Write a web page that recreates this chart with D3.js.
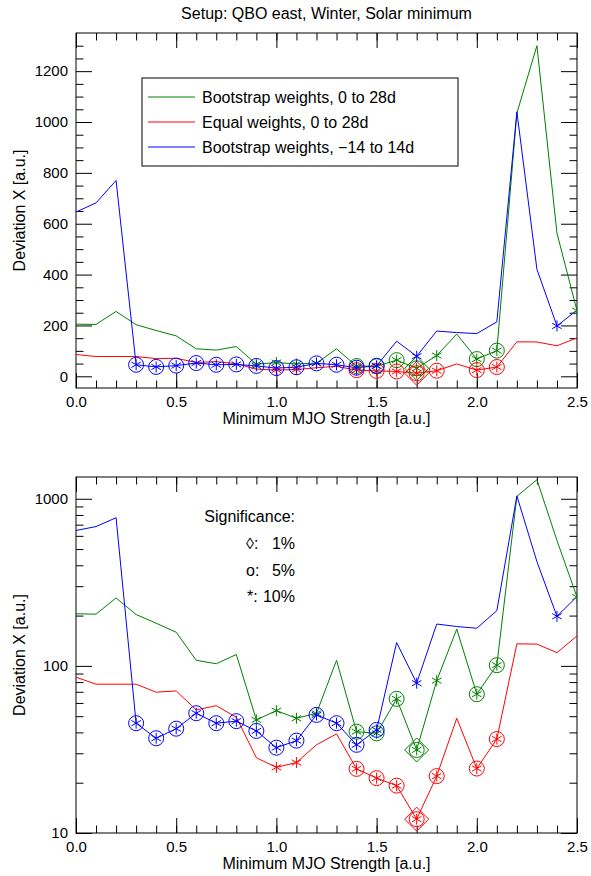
<!DOCTYPE html>
<html><head><meta charset="utf-8">
<script src="https://cdn.jsdelivr.net/npm/d3@7"></script>
<style>
body{margin:0;background:#fff;}
svg{display:block;font-family:"Liberation Sans",Arial,Helvetica,sans-serif;}
</style></head>
<body><svg id="c" width="591" height="876"></svg>
<script>
// ---------- data ----------
const strength = [0.0,0.1,0.2,0.3,0.4,0.5,0.6,0.7,0.8,0.9,1.0,1.1,1.2,1.3,1.4,1.5,1.6,1.7,1.8,1.9,2.0,2.1,2.2,2.3,2.4,2.5];
const greenVals = [205,204,255,203,180,159,108,103,117,47.5,54,48.6,52,108,40.4,39.5,63.5,31.4,81.6,166,67.7,101,1035,1300,563,258];
const redVals   = [85.6,77.7,77.7,77.7,69.6,70.8,54.5,57.8,49.3,28.2,24.7,26.4,33.7,39.2,24.2,21.3,19.2,12.1,21.9,48.6,24.3,36.5,135.5,135,120,151];
const blueVals  = [646,682,770,45.4,36.9,42.1,52.1,45.4,46.7,40.8,32.4,35.7,50.9,45.4,33.7,41.4,138,78.8,178,172,168,214,1040,421,198,260];
// significance codes: "" none, "s" 10% (*), "cs" 5% (o), "dcs" 1% (diamond)
const greenSig = ["","","","","","","","","","s","s","s","s","","cs","cs","cs","dcs","s","","cs","cs","","","","s"];
const redSig   = ["","","","","","","","","","","s","s","","","cs","cs","cs","dcs","cs","","cs","cs","","","",""];
const blueSig  = ["","","","cs","cs","cs","cs","cs","cs","cs","cs","cs","cs","cs","cs","cs","","s","","","","","","","s",""];
const seriesNames = ["Bootstrap weights, 0 to 28d","Equal weights, 0 to 28d","Bootstrap weights, \u221214 to 14d"];
const seriesColors = ["#008000","#ff0000","#0000ff"];
const linTicks = [0,200,400,600,800,1000,1200];
const logTicks = [10,100,1000];
const xTicks = [0.0,0.5,1.0,1.5,2.0,2.5];
const sigLabels = [["\u25CA:","1%"],["o:","5%"],["*:","10%"]];
const titleText = "Setup: QBO east, Winter, Solar minimum";
const xTitle = "Minimum MJO Strength [a.u.]";
const yTitle = "Deviation X [a.u.]";

const series = [
  {vals: greenVals, sig: greenSig, color: seriesColors[0]},
  {vals: redVals, sig: redSig, color: seriesColors[1]},
  {vals: blueVals, sig: blueSig, color: seriesColors[2]}
];

const svg = d3.select("#c");
const L = 76, R = 577;
const x = d3.scaleLinear().domain([0,2.5]).range([L,R]);
const xMinor = d3.range(0,26).map(i => i/10);
const FS = 15;   // numbers
const TS = 16;   // text

svg.append("text").attr("x",(L+R)/2).attr("y",19).attr("text-anchor","middle")
  .attr("font-size",TS).text(titleText);

function panel(id, y, top, bottom, majors, minors, fmt) {
  const g = svg.append("g");
  const clipId = "clip"+id;
  svg.append("clipPath").attr("id",clipId).append("rect")
    .attr("x",L).attr("y",top).attr("width",R-L).attr("height",bottom-top);

  g.append("g").attr("transform",`translate(0,${bottom})`)
    .call(d3.axisBottom(x).tickValues(xTicks).tickSizeInner(-15).tickSizeOuter(0).tickPadding(8).tickFormat(d3.format(".1f")));
  g.append("g").attr("transform",`translate(0,${bottom})`)
    .call(d3.axisBottom(x).tickValues(xMinor).tickSizeInner(-7.5).tickSizeOuter(0).tickFormat(""));
  g.append("g").attr("transform",`translate(0,${top})`)
    .call(d3.axisTop(x).tickValues(xTicks).tickSizeInner(-15).tickSizeOuter(0).tickFormat(""));
  g.append("g").attr("transform",`translate(0,${top})`)
    .call(d3.axisTop(x).tickValues(xMinor).tickSizeInner(-7.5).tickSizeOuter(0).tickFormat(""));
  g.append("g").attr("transform",`translate(${L},0)`)
    .call(d3.axisLeft(y).tickValues(majors).tickSizeInner(-16).tickSizeOuter(0).tickPadding(8).tickFormat(fmt));
  g.append("g").attr("transform",`translate(${L},0)`)
    .call(d3.axisLeft(y).tickValues(minors).tickSizeInner(-7.5).tickSizeOuter(0).tickFormat(""));
  g.append("g").attr("transform",`translate(${R},0)`)
    .call(d3.axisRight(y).tickValues(majors).tickSizeInner(-16).tickSizeOuter(0).tickFormat(""));
  g.append("g").attr("transform",`translate(${R},0)`)
    .call(d3.axisRight(y).tickValues(minors).tickSizeInner(-7.5).tickSizeOuter(0).tickFormat(""));
  g.selectAll(".domain").remove();
  g.selectAll(".tick line").attr("stroke","#000");
  g.selectAll(".tick text").attr("font-size",FS).attr("font-family","Liberation Sans, Arial, sans-serif").attr("fill","#000");

  g.append("rect").attr("x",L).attr("y",top).attr("width",R-L).attr("height",bottom-top)
    .attr("fill","none").attr("stroke","#000").attr("stroke-width",1);

  svg.append("text").attr("x",(L+R)/2).attr("y",bottom+36).attr("text-anchor","middle")
    .attr("font-size",TS).text(xTitle);
  svg.append("text").attr("transform",`translate(25,${(top+bottom)/2}) rotate(-90)`)
    .attr("text-anchor","middle").attr("font-size",TS).text(yTitle);

  const pg = svg.append("g").attr("clip-path",`url(#${clipId})`);
  const line = d3.line().x((d,i)=>x(strength[i])).y(d=>y(d));
  series.forEach(s => {
    pg.append("path").datum(s.vals).attr("d",line).attr("fill","none")
      .attr("stroke",s.color).attr("stroke-width",1);
  });
  series.forEach(s => {
    s.vals.forEach((v,i) => {
      const code = s.sig[i];
      if (!code) return;
      const cx = x(strength[i]), cy = y(v);
      const mg = pg.append("g").attr("transform",`translate(${cx},${cy})`)
        .attr("stroke",s.color).attr("fill","none").attr("stroke-width",1);
      const a = 5.5;
      const c30 = Math.cos(Math.PI/6)*a, s30 = Math.sin(Math.PI/6)*a;
      mg.append("path").attr("d",`M0,${-a}L0,${a}M${-c30},${-s30}L${c30},${s30}M${-c30},${s30}L${c30},${-s30}`);
      if (code.includes("c")) mg.append("circle").attr("r",7.5);
      if (code.includes("d")) mg.append("path").attr("d","M0,-12L12,0L0,12L-12,0Z");
    });
  });
  return g;
}

// top panel (linear)
const yTop = d3.scaleLinear().domain([-46,1350]).range([388,33]);
const linMinor = d3.range(50,1350,50).filter(v => v % 200 !== 0);
panel("a", yTop, 33, 388, linTicks, linMinor, d3.format("d"));

// legend
const lg = svg.append("g");
lg.append("rect").attr("x",142).attr("y",78).attr("width",316).attr("height",88)
  .attr("fill","#fff").attr("stroke","#000").attr("stroke-width",1);
seriesNames.forEach((n,i) => {
  const yy = 97 + i*25;
  lg.append("line").attr("x1",148).attr("x2",195).attr("y1",yy).attr("y2",yy)
    .attr("stroke",seriesColors[i]).attr("stroke-width",1);
  lg.append("text").attr("x",202).attr("y",yy+5.5).attr("font-size",TS).text(n);
});

// bottom panel (log)
const yBot = d3.scaleLog().domain([10,1350]).range([833,477]);
const logMinor = [20,30,40,50,60,70,80,90,200,300,400,500,600,700,800,900];
panel("b", yBot, 477, 833, logTicks, logMinor, d3.format("d"));

// significance block
const sg = svg.append("g").attr("font-size",TS);
sg.append("text").attr("x",295).attr("y",522).attr("text-anchor","end").text("Significance:");
sigLabels.forEach((p,i) => {
  const yy = 549 + i*26.5;
  sg.append("text").attr("x",i===2?247:246).attr("y",yy).text(p[0]);
  sg.append("text").attr("x",295).attr("y",yy).attr("text-anchor","end").text(p[1]);
});
</script></body></html>
